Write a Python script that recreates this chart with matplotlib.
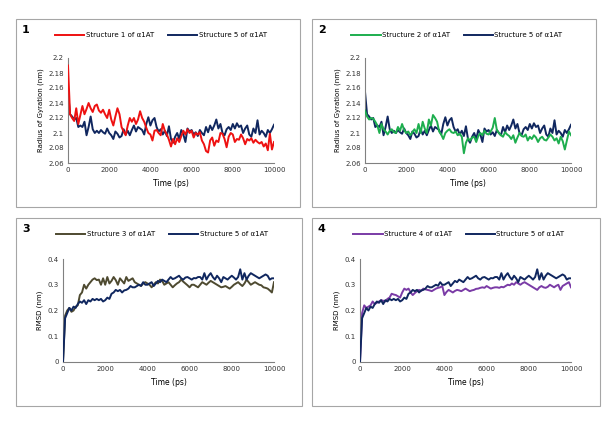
import matplotlib.pyplot as plt
from matplotlib.patches import Rectangle
from matplotlib.ticker import FuncFormatter

# time axis, one frame every 100 ps
time_ps = list(range(0, 10001, 100))

# radius of gyration (nm)
rg_s5 = [2.155, 2.125, 2.122, 2.118, 2.120, 2.108, 2.110, 2.108, 2.115, 2.097,
         2.108, 2.122, 2.105, 2.100, 2.103, 2.100, 2.104, 2.101, 2.099, 2.106,
         2.100, 2.097, 2.092, 2.102, 2.099, 2.094, 2.096, 2.105, 2.098, 2.103,
         2.097, 2.104, 2.110, 2.102, 2.108, 2.106, 2.104, 2.098, 2.112, 2.121,
         2.110, 2.117, 2.120, 2.108, 2.102, 2.105, 2.098, 2.103, 2.096, 2.109,
         2.092, 2.087, 2.095, 2.100, 2.092, 2.104, 2.098, 2.088, 2.106, 2.102,
         2.104, 2.098, 2.101, 2.096, 2.104, 2.100, 2.097, 2.108, 2.101, 2.110,
         2.104, 2.110, 2.118, 2.106, 2.112, 2.100, 2.097, 2.105, 2.108, 2.104,
         2.112, 2.106, 2.113, 2.108, 2.110, 2.100, 2.106, 2.110, 2.098, 2.095,
         2.106, 2.100, 2.117, 2.098, 2.103, 2.100, 2.095, 2.104, 2.100, 2.105,
         2.111]

rg_s1 = [2.190, 2.125, 2.120, 2.116, 2.133, 2.112, 2.124, 2.136, 2.125, 2.132,
         2.140, 2.133, 2.128, 2.136, 2.138, 2.130, 2.127, 2.131, 2.125, 2.120,
         2.131, 2.118, 2.110, 2.122, 2.133, 2.125, 2.108, 2.102, 2.097, 2.110,
         2.120, 2.115, 2.120, 2.112, 2.118, 2.129, 2.120, 2.115, 2.107, 2.100,
         2.098, 2.090, 2.103, 2.104, 2.100, 2.097, 2.112, 2.103, 2.098, 2.091,
         2.082, 2.092, 2.085, 2.093, 2.088, 2.096, 2.103, 2.098, 2.105, 2.100,
         2.103, 2.094, 2.100, 2.098, 2.101, 2.090, 2.085, 2.076, 2.074, 2.090,
         2.094, 2.083, 2.090, 2.088, 2.100, 2.099, 2.092, 2.081, 2.095, 2.100,
         2.098, 2.088, 2.092, 2.091, 2.098, 2.093, 2.085, 2.092, 2.090, 2.093,
         2.087, 2.091, 2.088, 2.086, 2.088, 2.082, 2.086, 2.077, 2.099, 2.078,
         2.088]

rg_s2 = [2.130, 2.122, 2.118, 2.120, 2.119, 2.115, 2.110, 2.100, 2.112, 2.105,
         2.102, 2.098, 2.103, 2.105, 2.101, 2.100, 2.108, 2.103, 2.112, 2.104,
         2.100, 2.102, 2.097, 2.101, 2.105, 2.100, 2.112, 2.100, 2.115, 2.106,
         2.100, 2.118, 2.110, 2.124, 2.120, 2.115, 2.102, 2.098, 2.092, 2.100,
         2.103, 2.105, 2.101, 2.100, 2.102, 2.097, 2.099, 2.095, 2.073, 2.087,
         2.093, 2.090, 2.094, 2.095, 2.088, 2.096, 2.100, 2.097, 2.103, 2.099,
         2.098, 2.102, 2.107, 2.120, 2.104, 2.100, 2.097, 2.095, 2.101, 2.098,
         2.096, 2.092, 2.097, 2.087, 2.094, 2.100, 2.096, 2.095, 2.098, 2.090,
         2.095, 2.092, 2.097, 2.094, 2.088, 2.093, 2.095, 2.091, 2.090, 2.094,
         2.098, 2.095, 2.090, 2.093, 2.086, 2.095, 2.089, 2.078, 2.090, 2.102,
         2.097]

# RMSD (nm)
rmsd_s5 = [0.000, 0.170, 0.190, 0.210, 0.200, 0.215, 0.210, 0.225, 0.235, 0.230,
           0.240, 0.225, 0.240, 0.235, 0.245, 0.240, 0.245, 0.240, 0.245, 0.235,
           0.240, 0.250, 0.245, 0.265, 0.270, 0.280, 0.275, 0.280, 0.270, 0.278,
           0.280, 0.285, 0.295, 0.290, 0.290, 0.295, 0.300, 0.296, 0.310, 0.300,
           0.300, 0.305, 0.310, 0.295, 0.305, 0.315, 0.310, 0.320, 0.315, 0.310,
           0.320, 0.330, 0.322, 0.325, 0.330, 0.335, 0.325, 0.320, 0.328, 0.330,
           0.325, 0.320, 0.326, 0.325, 0.330, 0.330, 0.320, 0.345, 0.320, 0.335,
           0.345, 0.330, 0.320, 0.335, 0.325, 0.310, 0.330, 0.325, 0.320, 0.328,
           0.335, 0.328, 0.320, 0.330, 0.360, 0.320, 0.345, 0.320, 0.335, 0.345,
           0.340, 0.335, 0.330, 0.325, 0.330, 0.335, 0.340, 0.335, 0.320, 0.325,
           0.325]

rmsd_s3 = [0.000, 0.180, 0.200, 0.210, 0.195, 0.200, 0.215, 0.220, 0.260, 0.270,
           0.300, 0.285, 0.300, 0.310, 0.320, 0.325, 0.318, 0.320, 0.300, 0.325,
           0.300, 0.330, 0.305, 0.315, 0.330, 0.318, 0.300, 0.325, 0.315, 0.305,
           0.330, 0.315, 0.320, 0.325, 0.310, 0.305, 0.300, 0.295, 0.305, 0.310,
           0.305, 0.300, 0.290, 0.300, 0.310, 0.305, 0.320, 0.315, 0.300, 0.305,
           0.310, 0.300, 0.290, 0.298, 0.305, 0.310, 0.320, 0.312, 0.305, 0.298,
           0.290, 0.300, 0.300, 0.295, 0.290, 0.300, 0.310, 0.305, 0.300, 0.308,
           0.315, 0.310, 0.305, 0.300, 0.295, 0.290, 0.292, 0.295, 0.290, 0.285,
           0.292, 0.300, 0.305, 0.310, 0.302, 0.295, 0.305, 0.320, 0.310, 0.300,
           0.305, 0.310, 0.305, 0.300, 0.298, 0.290, 0.288, 0.285, 0.278, 0.270,
           0.310]

rmsd_s4 = [0.000, 0.190, 0.220, 0.210, 0.215, 0.220, 0.235, 0.225, 0.230, 0.235,
           0.240, 0.238, 0.235, 0.245, 0.250, 0.265, 0.262, 0.260, 0.255, 0.250,
           0.270, 0.285, 0.280, 0.285, 0.270, 0.260, 0.268, 0.275, 0.280, 0.276,
           0.285, 0.282, 0.280, 0.278, 0.275, 0.280, 0.285, 0.288, 0.290, 0.295,
           0.260, 0.272, 0.280, 0.275, 0.270, 0.276, 0.280, 0.278, 0.275, 0.280,
           0.285, 0.280, 0.275, 0.278, 0.280, 0.284, 0.285, 0.288, 0.290, 0.288,
           0.295, 0.290, 0.285, 0.288, 0.290, 0.290, 0.288, 0.292, 0.290, 0.295,
           0.300, 0.298, 0.305, 0.300, 0.310, 0.305, 0.300, 0.306, 0.310, 0.305,
           0.300, 0.295, 0.290, 0.285, 0.280, 0.290, 0.295, 0.290, 0.288, 0.292,
           0.300, 0.295, 0.290, 0.296, 0.300, 0.280, 0.295, 0.300, 0.305, 0.310,
           0.290]

red = '#EE1111'
navy = '#10275F'
green = '#1DAE4E'
olive = '#4E4A30'
purple = '#7A3BA6'

plt.rcParams['font.family'] = ['DejaVu Sans']
fig = plt.figure(figsize=(6.12, 4.24), dpi=100)
W, H = 612, 424


def px_axes(left, right, top, bottom):
    return fig.add_axes([left / W, 1 - bottom / H, (right - left) / W, (bottom - top) / H])


def panel_box(x0, y0, x1, y1):
    fig.patches.append(Rectangle((x0 / W, 1 - y1 / H), (x1 - x0) / W, (y1 - y0) / H,
                                 transform=fig.transFigure, fill=False,
                                 edgecolor='#A6A6A6', linewidth=0.8))


def plain(v, pos):
    return ('%g' % v)


def style(ax, ylim, yticks, ylabel):
    ax.set_xlim(0, 10000)
    ax.set_ylim(*ylim)
    ax.set_xticks(range(0, 10001, 2000))
    ax.set_yticks(yticks)
    ax.yaxis.set_major_formatter(FuncFormatter(plain))
    for s in ['top', 'right']:
        ax.spines[s].set_visible(False)
    ax.spines['left'].set_color('#808080')
    ax.spines['bottom'].set_color('#808080')
    ax.spines['left'].set_linewidth(0.8)
    ax.spines['bottom'].set_linewidth(0.8)
    ax.tick_params(length=0, labelsize=5, pad=3, colors='#333333')
    ax.set_xlabel('Time (ps)', fontsize=5.5, labelpad=4)
    ax.set_ylabel(ylabel, fontsize=5, labelpad=3)
    ax.set_facecolor('none')


panels = [
    (1, (16, 19, 300, 207), (68, 274, 58, 163), rg_s1, red, (2.06, 2.2),
     [2.06, 2.08, 2.1, 2.12, 2.14, 2.16, 2.18, 2.2], 'Radius of Gyration (nm)', rg_s5),
    (2, (312, 19, 596, 207), (365, 571, 58, 163), rg_s2, green, (2.06, 2.2),
     [2.06, 2.08, 2.1, 2.12, 2.14, 2.16, 2.18, 2.2], 'Radius of Gyration (nm)', rg_s5),
    (3, (16, 218, 302, 406), (63, 274, 259, 362), rmsd_s3, olive, (0, 0.4),
     [0, 0.1, 0.2, 0.3, 0.4], 'RMSD (nm)', rmsd_s5),
    (4, (312, 218, 600, 406), (360, 571, 259, 362), rmsd_s4, purple, (0, 0.4),
     [0, 0.1, 0.2, 0.3, 0.4], 'RMSD (nm)', rmsd_s5),
]

for num, box, area, data, col, ylim, yticks, ylabel, ref in panels:
    panel_box(*box)
    ax = px_axes(*area)
    l1, = ax.plot(time_ps, data, color=col, linewidth=1.4)
    l2, = ax.plot(time_ps, ref, color=navy, linewidth=1.4)
    if num in (3, 4):
        # structure 5 drawn on top in the RMSD panels
        l2.set_zorder(3)
    else:
        l1.set_zorder(3)
        l2.set_zorder(2)
    style(ax, ylim, yticks, ylabel)
    fig.text((box[0] + 6) / W, 1 - (box[1] + 11) / H, str(num), fontsize=8,
             fontweight='bold', va='center', ha='left')
    cx = (box[0] + box[2]) / 2 + 3
    fig.legend([l1, l2], ['Structure %d of α1AT' % num, 'Structure 5 of α1AT'],
               loc='center', bbox_to_anchor=(cx / W, 1 - (box[1] + 16) / H),
               bbox_transform=fig.transFigure, ncol=2, frameon=False,
               fontsize=5, handlelength=4.2, handletextpad=0.2,
               columnspacing=2.0)

fig.savefig('out.png', dpi=100)
